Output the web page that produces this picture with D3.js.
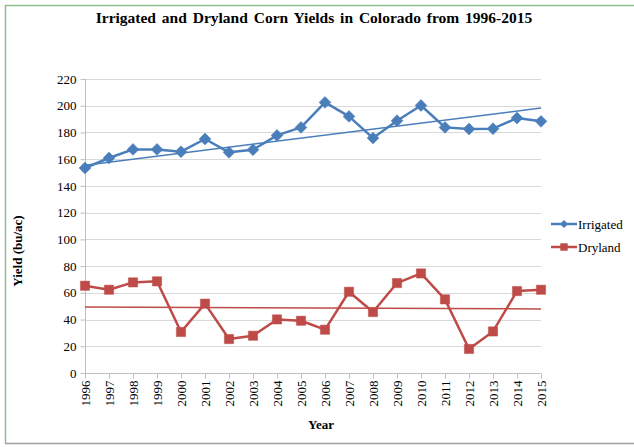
<!DOCTYPE html>
<html><head><meta charset="utf-8">
<script src="https://cdn.jsdelivr.net/npm/d3@7"></script>
<style>body{margin:0;background:#fff}svg{display:block}text{font-family:"Liberation Serif","Times New Roman",serif;fill:#000}</style>
</head><body><svg id="c" width="634" height="447"></svg>
<script>
const years = [1996,1997,1998,1999,2000,2001,2002,2003,2004,2005,2006,2007,2008,2009,2010,2011,2012,2013,2014,2015];
const irrigated = [153.4,160.9,167.3,167.3,165.6,175.1,165.1,167.1,177.8,183.8,202.5,192.0,175.8,188.8,200.2,183.8,182.6,182.8,190.8,188.3];
const dryland = [65.3,62.3,67.8,68.6,30.7,51.9,25.4,27.9,40.1,39.1,32.4,60.8,45.6,67.3,74.5,55.1,18.0,31.1,61.3,62.3];
const trendYears = [1996,2015];
const irrigatedTrend = [155.5,198.3];
const drylandTrend = [49.4,47.9];
const yTicks = [0,20,40,60,80,100,120,140,160,180,200,220];
const seriesNames = ["Irrigated","Dryland"];
const colors = ["#4a7ebb","#be4b48"];

const svg = d3.select("#c");
// frame
svg.append("line").attr("x1",5.5).attr("x2",634).attr("y1",5.5).attr("y2",5.5).attr("stroke","#8cbf8c").attr("stroke-width",1.5);
svg.append("line").attr("x1",5.5).attr("x2",5.5).attr("y1",5).attr("y2",443).attr("stroke","#8cbf8c").attr("stroke-width",1.5);
svg.append("line").attr("x1",5).attr("x2",634).attr("y1",443.5).attr("y2",443.5).attr("stroke","#a0a0a0").attr("stroke-width",1.5);

const x = d3.scalePoint().domain(years).range([85,541]);
const y = d3.scaleLinear().domain([0,220]).range([373,79]);

// grid
svg.append("g").selectAll("line").data(yTicks.slice(1)).join("line")
  .attr("x1",85).attr("x2",541).attr("y1",d=>Math.round(y(d))+0.5).attr("y2",d=>Math.round(y(d))+0.5)
  .attr("stroke","#d9d9d9").attr("stroke-width",1);

// y axis
const ya = svg.append("g").attr("transform","translate(85.5,0)")
  .call(d3.axisLeft(y).tickValues(yTicks).tickSize(5).tickPadding(4))
  .attr("font-family","Liberation Serif").attr("font-size",13);
ya.select(".domain").attr("stroke","#bfbfbf").attr("d","M0,79V373.5");
ya.selectAll(".tick line").attr("stroke","#bfbfbf");
ya.selectAll(".tick text").style("font-size","13px").style("font-family","'Liberation Serif', serif");

// x axis
const xa = svg.append("g").attr("transform","translate(0,373.5)")
  .call(d3.axisBottom(x).tickSize(5).tickPadding(4))
  .attr("font-family","Liberation Serif").attr("font-size",13);
xa.select(".domain").attr("stroke","#bfbfbf").attr("d","M85,0H541");
xa.selectAll(".tick line").attr("stroke","#bfbfbf");
xa.selectAll(".tick text").style("font-size","13px").style("font-family","'Liberation Serif', serif")
  .attr("transform","rotate(-90)").attr("text-anchor","end").attr("x",-7).attr("y",0).attr("dy","0.35em");

const data=[irrigated,dryland];
const trends=[irrigatedTrend,drylandTrend];
const line=d3.line().x((d,i)=>x(years[i])).y(d=>y(d));
trends.forEach((t,k)=>{
  svg.append("line").attr("x1",x(trendYears[0])).attr("y1",y(t[0])).attr("x2",x(trendYears[1])).attr("y2",y(t[1]))
    .attr("stroke",colors[k]).attr("stroke-width",1.5);
});
data.forEach((vals,k)=>{
  svg.append("path").datum(vals).attr("d",line).attr("fill","none").attr("stroke",colors[k]).attr("stroke-width",2.5).attr("stroke-linejoin","round");
  const sym = k===0 ? d3.symbol(d3.symbolDiamond2,90) : d3.symbol(d3.symbolSquare,85);
  svg.append("g").selectAll("path").data(vals).join("path")
    .attr("d",sym).attr("transform",(d,i)=>`translate(${x(years[i])},${y(d)})`)
    .attr("fill",colors[k]).attr("stroke",colors[k]).attr("stroke-width",0.5);
});

// legend
seriesNames.forEach((nm,k)=>{
  const ly=224+k*23;
  svg.append("line").attr("x1",551).attr("x2",577).attr("y1",ly).attr("y2",ly).attr("stroke",colors[k]).attr("stroke-width",2.5);
  const sym = k===0 ? d3.symbol(d3.symbolDiamond2,40) : d3.symbol(d3.symbolSquare,55);
  svg.append("path").attr("d",sym).attr("transform",`translate(564,${ly})`).attr("fill",colors[k]);
  svg.append("text").attr("x",578).attr("y",ly).attr("dy","0.35em").style("font-size","13px").text(nm);
});

// titles
svg.append("text").attr("x",314).attr("y",22.5).attr("text-anchor","middle").style("font-size","15.5px").style("font-weight","bold")
  .style("word-spacing","2px").text("Irrigated and Dryland Corn Yields in Colorado from 1996-2015");
svg.append("text").attr("x",321).attr("y",429).attr("text-anchor","middle").style("font-size","13px").style("font-weight","bold").text("Year");
svg.append("text").attr("transform","translate(22,251) rotate(-90)").attr("text-anchor","middle").style("font-size","13px").style("font-weight","bold").text("Yield (bu/ac)");
</script></body></html>
